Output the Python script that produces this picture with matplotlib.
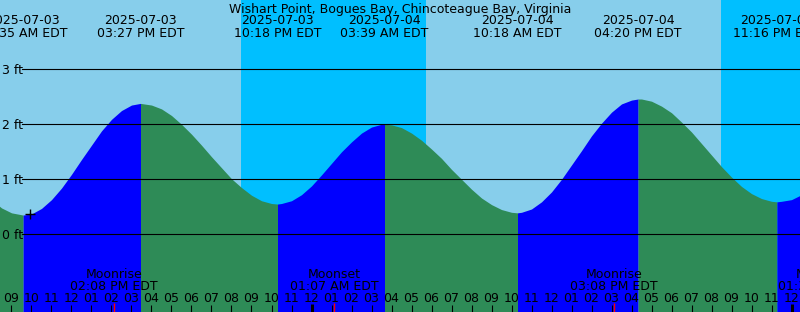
import matplotlib.pyplot as plt
import numpy as np

# times are hours since 2025-07-03 00:00 EDT, heights in feet
hours = [8, 8.5, 9, 9.58,
         10, 10.5, 11, 11.5, 12, 12.5, 13, 13.5, 14, 14.5, 15, 15.45,
         16, 16.5, 17, 17.5, 18, 18.5, 19, 19.5, 20, 20.5, 21, 21.5, 22, 22.30,
         22.5, 23, 23.5, 24, 24.5, 25, 25.5, 26, 26.5, 27, 27.5, 27.65,
         28, 28.5, 29, 29.5, 30, 30.5, 31, 31.5, 32, 32.5, 33, 33.5, 34, 34.30,
         34.5, 35, 35.5, 36, 36.5, 37, 37.5, 38, 38.5, 39, 39.5, 40, 40.33,
         40.5, 41, 41.5, 42, 42.5, 43, 43.5, 44, 44.5, 45, 45.5, 46, 46.5, 47, 47.27,
         47.5, 48, 48.5, 49]
heights = [0.63, 0.48, 0.39, 0.35,
           0.37, 0.47, 0.63, 0.84, 1.09, 1.36, 1.62, 1.88, 2.09, 2.25, 2.35, 2.38,
           2.35, 2.28, 2.16, 2.00, 1.82, 1.62, 1.41, 1.21, 1.01, 0.85, 0.71, 0.61, 0.56, 0.55,
           0.56, 0.61, 0.72, 0.88, 1.08, 1.29, 1.50, 1.68, 1.84, 1.95, 2.00, 2.00,
           1.99, 1.94, 1.84, 1.71, 1.55, 1.38, 1.18, 1.00, 0.82, 0.66, 0.54, 0.45, 0.40, 0.39,
           0.40, 0.46, 0.59, 0.77, 1.00, 1.26, 1.52, 1.79, 2.02, 2.22, 2.37, 2.44, 2.46,
           2.46, 2.42, 2.33, 2.21, 2.04, 1.86, 1.65, 1.44, 1.23, 1.04, 0.87, 0.74, 0.65, 0.60, 0.59,
           0.60, 0.63, 0.72, 0.83]

event_times = [9.58, 15.45, 22.30, 27.65, 34.30, 40.33, 47.27]
event_dates = ['2025-07-03', '2025-07-03', '2025-07-03', '2025-07-04',
               '2025-07-04', '2025-07-04', '2025-07-04']
event_clock = ['09:35 AM EDT', '03:27 PM EDT', '10:18 PM EDT', '03:39 AM EDT',
               '10:18 AM EDT', '04:20 PM EDT', '11:16 PM EDT']

night_start = [20.47, 44.47]
night_end = [29.72, 52.0]

moon_times = [14.13, 25.12, 39.13, 49.55]
moon_names = ['Moonrise', 'Moonset', 'Moonrise', 'Moonset']
moon_clock = ['02:08 PM EDT', '01:07 AM EDT', '03:08 PM EDT', '01:33 AM EDT']

tick_hours = list(range(9, 49))
tick_labels = ['09', '10', '11', '12', '01', '02', '03', '04', '05', '06', '07', '08',
               '09', '10', '11', '12', '01', '02', '03', '04', '05', '06', '07', '08',
               '09', '10', '11', '12', '01', '02', '03', '04', '05', '06', '07', '08',
               '09', '10', '11', '12']
midnights = [24, 48]
feet = [0, 1, 2, 3]
now_time, now_height = 9.93, 0.37

title = 'Wishart Point, Bogues Bay, Chincoteague Bay, Virginia'

W, H = 800, 312
x0 = 9 - 11.5 / 20          # hour at left edge, 20 px per hour
ybot = -(H - 234.3) / 55    # 55 px per foot
ytop = 234.3 / 55
fs = 9

fig = plt.figure(figsize=(W / 100, H / 100), dpi=100)
fig.patch.set_facecolor('#87ceeb')
ax = fig.add_axes([0, 0, 1, 1])
ax.set_xlim(x0, x0 + W / 20)
ax.set_ylim(ybot, ytop)
ax.axis('off')

for a, b in zip(night_start, night_end):
    ax.axvspan(a, b, color='#00bfff', lw=0)

t = np.array(hours)
h = np.array(heights)
bounds = [-np.inf] + event_times + [np.inf]
for i in range(len(bounds) - 1):
    m = (t >= bounds[i]) & (t <= bounds[i + 1])
    col = '#2e8b57' if i % 2 == 0 else '#0000ff'
    ax.fill_between(t[m], h[m], ybot, color=col, lw=0)

for f in feet:
    ax.axhline(f, xmin=22 / W, color='black', lw=0.8)
    ax.text(2 / 20 + x0, f, f'{f} ft', fontsize=fs, ha='left', va='center_baseline')

ax.plot(now_time, now_height, marker='+', color='black', ms=7, mew=1)

xt = ax.get_xaxis_transform()
fig.text(0.5, 1 - 7.5 / H, title, fontsize=fs, ha='center', va='center_baseline')
for et, d, c in zip(event_times, event_dates, event_clock):
    ax.text(et, 1 - 19.5 / H, d, fontsize=fs, ha='center', va='center_baseline', transform=xt)
    ax.text(et, 1 - 32 / H, c, fontsize=fs, ha='center', va='center_baseline', transform=xt)

for mt, n, c in zip(moon_times, moon_names, moon_clock):
    ax.text(mt, (H - 273.5) / H, n, fontsize=fs, ha='center', va='center_baseline', transform=xt)
    ax.text(mt, (H - 285.5) / H, c, fontsize=fs, ha='center', va='center_baseline', transform=xt)
    ax.vlines(mt, 0, 9 / H, color='red', lw=1, transform=xt)

for th, lab in zip(tick_hours, tick_labels):
    ax.text(th, (H - 297) / H, lab, fontsize=fs, ha='center', va='center_baseline', transform=xt)
ax.vlines(tick_hours, 0, 7 / H, color='black', lw=0.8, transform=xt)
ax.vlines(midnights, 0, 8 / H, color='black', lw=2.2, transform=xt)

fig.savefig('out.png', dpi=100, facecolor=fig.get_facecolor())
